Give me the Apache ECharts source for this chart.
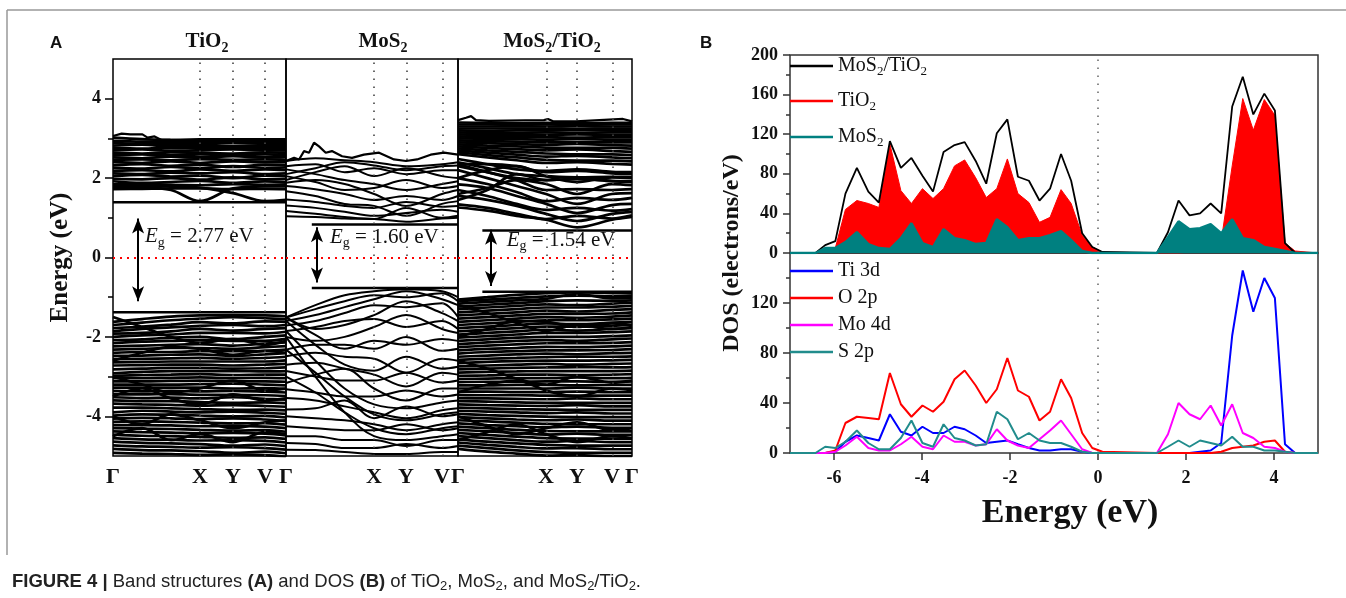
<!DOCTYPE html>
<html>
<head>
<meta charset="utf-8">
<script src="https://cdn.jsdelivr.net/npm/echarts@6/dist/echarts.min.js"></script>
<style>
html,body{margin:0;padding:0;background:#fff;}
#chart{width:1346px;height:598px;}
</style>
</head>
<body>
<div id="chart"></div>
<script>
// ---------- (A) band structures ----------
// k-path sample positions (fraction of each panel): Γ, ⅓ΓX, ⅔ΓX, X, Y, V, Γ
const kTiO2   = [0, 0.168, 0.335, 0.503, 0.694, 0.879, 1.0];
const kMoS2   = [0, 0.171, 0.341, 0.512, 0.698, 0.907, 1.0];
const kHetero = [0, 0.169, 0.337, 0.506, 0.684, 0.885, 1.0];

const panelTitles = ['TiO2', 'MoS2', 'MoS2/TiO2'];
const cbm = [1.39, 0.83, 0.68];       // conduction band minimum (eV)
const vbm = [-1.38, -0.77, -0.86];    // valence band maximum (eV)
const gapLineStartK = [0, 0.15, 0.14];
const arrowK = [0.145, 0.18, 0.19];
const arrowTop = [0.98, 0.76, 0.70];
const arrowBottom = [-1.10, -0.63, -0.72];
const gapLabelK = [0.185, 0.256, 0.28];
const gapLabelE = [0.52, 0.50, 0.42];

const tio2Cond = [
  [1.78,1.77,1.70,1.42,1.74,1.79,1.79],
  [1.80,1.80,1.80,1.76,1.62,1.42,1.45],
  [1.72,1.73,1.74,1.74,1.72,1.73,1.72],
  [1.84,1.86,1.83,1.82,1.85,1.83,1.84],
  [1.92,1.88,1.90,1.93,1.88,1.92,1.90],
  [1.98,1.97,2.00,1.96,2.02,1.97,1.98],
  [2.05,2.08,2.04,2.06,2.00,2.06,2.05],
  [2.12,2.10,2.14,2.12,2.15,2.10,2.12],
  [2.18,2.20,2.17,2.22,2.18,2.22,2.20],
  [2.26,2.24,2.28,2.25,2.30,2.26,2.27],
  [2.32,2.35,2.31,2.34,2.28,2.34,2.33],
  [2.40,2.38,2.42,2.38,2.42,2.40,2.40],
  [2.46,2.47,2.45,2.48,2.46,2.47,2.46],
  [2.52,2.50,2.54,2.52,2.55,2.52,2.53],
  [2.58,2.60,2.57,2.60,2.58,2.60,2.58],
  [2.64,2.62,2.65,2.64,2.62,2.65,2.64],
  [2.70,2.72,2.69,2.70,2.72,2.70,2.70],
  [2.76,2.74,2.77,2.75,2.76,2.76,2.75],
  [2.82,2.84,2.80,2.81,2.80,2.82,2.81],
  [2.88,2.86,2.87,2.86,2.88,2.87,2.87],
  [2.94,2.92,2.92,2.91,2.92,2.92,2.92],
  [3.02,2.98,2.96,2.95,2.95,2.96,2.96]
];
const tio2Val = [
  [-1.62,-1.55,-1.49,-1.46,-1.45,-1.46,-1.48],
  [-1.70,-1.64,-1.58,-1.54,-1.50,-1.53,-1.55],
  [-1.78,-1.74,-1.69,-1.63,-1.66,-1.61,-1.62],
  [-1.86,-1.80,-1.76,-1.72,-1.70,-1.73,-1.70],
  [-1.92,-1.90,-1.86,-1.80,-1.84,-1.80,-1.78],
  [-2.00,-1.96,-1.94,-1.90,-1.90,-1.91,-1.87],
  [-2.08,-2.06,-2.02,-2.00,-2.06,-2.00,-1.96],
  [-2.16,-2.12,-2.10,-2.08,-2.10,-2.10,-2.05],
  [-2.24,-2.22,-2.20,-2.18,-2.22,-2.17,-2.14],
  [-2.32,-2.30,-2.28,-2.28,-2.30,-2.26,-2.23],
  [-2.40,-2.38,-2.38,-2.36,-2.36,-2.35,-2.32],
  [-2.48,-2.47,-2.45,-2.44,-2.48,-2.44,-2.41],
  [-2.56,-2.55,-2.54,-2.53,-2.55,-2.53,-2.50],
  [-2.64,-2.63,-2.62,-2.62,-2.62,-2.62,-2.59],
  [-2.72,-2.71,-2.70,-2.70,-2.72,-2.70,-2.68],
  [-2.82,-2.80,-2.78,-2.78,-2.80,-2.79,-2.77],
  [-2.92,-2.88,-2.86,-2.86,-2.86,-2.87,-2.86],
  [-2.98,-2.96,-2.95,-2.94,-2.96,-2.95,-2.95],
  [-3.04,-3.04,-3.03,-3.02,-3.04,-3.03,-3.04],
  [-3.12,-3.12,-3.11,-3.10,-3.12,-3.12,-3.13],
  [-3.20,-3.20,-3.20,-3.19,-3.18,-3.20,-3.22],
  [-3.28,-3.28,-3.28,-3.28,-3.30,-3.29,-3.31],
  [-3.36,-3.37,-3.36,-3.37,-3.36,-3.38,-3.40],
  [-3.44,-3.45,-3.44,-3.46,-3.46,-3.47,-3.49],
  [-3.52,-3.54,-3.53,-3.55,-3.52,-3.56,-3.58],
  [-3.60,-3.62,-3.62,-3.64,-3.66,-3.65,-3.67],
  [-3.68,-3.70,-3.71,-3.73,-3.72,-3.74,-3.76],
  [-3.78,-3.78,-3.80,-3.82,-3.84,-3.83,-3.85],
  [-3.90,-3.86,-3.88,-3.90,-3.88,-3.91,-3.94],
  [-3.98,-3.95,-3.96,-3.98,-4.00,-3.99,-4.03],
  [-4.06,-4.04,-4.05,-4.07,-4.05,-4.08,-4.12],
  [-4.14,-4.13,-4.14,-4.16,-4.18,-4.17,-4.21],
  [-4.22,-4.22,-4.23,-4.25,-4.24,-4.26,-4.30],
  [-4.30,-4.31,-4.32,-4.34,-4.36,-4.35,-4.39],
  [-4.38,-4.40,-4.41,-4.43,-4.42,-4.44,-4.48],
  [-4.46,-4.49,-4.50,-4.52,-4.54,-4.53,-4.57],
  [-4.55,-4.58,-4.59,-4.61,-4.60,-4.62,-4.66],
  [-4.64,-4.67,-4.68,-4.70,-4.74,-4.71,-4.75],
  [-4.73,-4.76,-4.77,-4.79,-4.78,-4.80,-4.84],
  [-4.82,-4.85,-4.86,-4.88,-4.92,-4.89,-4.93],
  [-4.92,-4.94,-4.95,-4.97,-4.96,-4.98,-5.02],
  [-1.50,-1.75,-2.00,-2.15,-2.05,-2.20,-2.10],
  [-2.60,-2.40,-2.25,-2.30,-2.45,-2.35,-2.40],
  [-3.00,-3.20,-3.40,-3.30,-3.10,-3.35,-3.30],
  [-3.50,-3.30,-3.55,-3.70,-3.45,-3.60,-3.55],
  [-4.00,-4.20,-3.95,-4.10,-4.30,-4.15,-4.10],
  [-4.50,-4.30,-4.60,-4.45,-4.65,-4.40,-4.45]
];
// jagged top of the conduction manifold
const tio2EdgeK = [0, 0.05, 0.10, 0.17, 0.20, 0.24, 0.28, 0.50, 0.70, 0.88, 1.0];
const tio2EdgeE = [3.06, 3.12, 3.10, 3.10, 3.02, 3.05, 2.96, 2.98, 2.98, 2.98, 2.98];

const mos2Cond = [
  [1.04,1.02,0.98,0.97,0.90,0.98,1.00],
  [1.17,1.10,1.02,0.97,1.25,1.00,1.05],
  [1.31,1.25,1.15,1.05,1.12,1.20,1.15],
  [1.46,1.40,1.30,1.25,1.40,1.28,1.30],
  [1.67,1.55,1.35,1.30,1.05,1.35,1.42],
  [1.80,1.72,1.60,1.45,1.55,1.45,1.55],
  [1.88,1.95,1.85,1.60,1.30,1.60,1.70],
  [2.05,1.90,1.70,1.75,1.95,1.75,1.80],
  [2.22,2.10,1.95,1.85,1.70,1.85,1.92],
  [1.95,2.15,2.30,2.05,2.25,2.05,2.00],
  [2.30,2.35,2.15,2.25,2.10,2.20,2.20],
  [2.43,2.50,2.45,2.40,2.30,2.35,2.40],
  [2.10,2.25,2.40,2.32,2.20,2.30,2.32]
];
const mos2Val = [
  [-1.51,-1.20,-0.95,-0.85,-0.80,-0.85,-1.00],
  [-1.51,-1.30,-1.10,-0.95,-1.00,-0.90,-1.10],
  [-1.60,-1.45,-1.25,-1.05,-0.85,-1.05,-1.20],
  [-1.71,-1.60,-1.40,-1.20,-1.25,-1.15,-1.50],
  [-1.51,-1.80,-1.70,-1.45,-1.10,-1.40,-1.60],
  [-1.85,-1.75,-1.60,-1.55,-1.75,-1.60,-1.80],
  [-2.00,-2.10,-2.00,-1.75,-1.45,-1.80,-1.90],
  [-1.51,-1.95,-2.30,-2.10,-2.20,-2.05,-2.10],
  [-2.32,-2.20,-2.20,-2.30,-2.00,-2.35,-2.30],
  [-2.49,-2.40,-2.50,-2.55,-2.90,-2.55,-2.60],
  [-1.60,-2.20,-2.70,-2.85,-2.50,-2.80,-2.75],
  [-2.70,-2.65,-2.80,-2.95,-3.25,-2.90,-2.95],
  [-2.86,-3.00,-3.10,-3.10,-2.90,-3.15,-3.10],
  [-3.16,-2.95,-2.80,-3.30,-3.60,-3.30,-3.30],
  [-3.32,-3.40,-3.50,-3.50,-3.35,-3.50,-3.45],
  [-1.85,-2.60,-3.30,-3.70,-3.80,-3.65,-3.60],
  [-3.54,-3.60,-3.75,-3.90,-4.05,-3.85,-3.80],
  [-3.83,-3.80,-3.60,-4.05,-3.75,-4.00,-3.95],
  [-4.00,-4.05,-4.10,-4.20,-4.35,-4.20,-4.15],
  [-4.25,-4.30,-4.35,-4.35,-4.20,-4.35,-4.30],
  [-2.00,-3.00,-3.90,-4.50,-4.60,-4.50,-4.45],
  [-4.50,-4.50,-4.60,-4.60,-4.75,-4.60,-4.60],
  [-4.67,-4.70,-4.80,-4.80,-4.70,-4.80,-4.75],
  [-4.84,-4.85,-4.90,-4.95,-4.95,-4.90,-4.90],
  [-2.32,-2.90,-3.50,-3.95,-4.10,-3.95,-3.90],
  [-3.00,-3.40,-3.90,-4.30,-4.45,-4.30,-4.25]
];
const mos2EdgeK = [0, 0.047, 0.076, 0.105, 0.134, 0.163, 0.192, 0.231, 0.267, 0.326, 0.384, 0.453, 0.541, 0.628, 0.698, 0.762, 0.841, 0.919, 1.0];
const mos2EdgeE = [2.43, 2.51, 2.47, 2.68, 2.64, 2.89, 2.80, 2.64, 2.68, 2.55, 2.51, 2.59, 2.64, 2.47, 2.43, 2.47, 2.59, 2.64, 2.59];

const heteroCond = [
  [1.26,1.18,1.05,0.95,0.76,0.95,1.02],
  [1.34,1.25,1.10,0.97,1.05,0.98,1.06],
  [1.55,1.45,1.30,1.10,0.92,1.10,1.15],
  [1.70,1.55,1.35,1.20,1.25,1.18,1.22],
  [1.84,1.75,1.55,1.35,1.12,1.32,1.35],
  [2.00,1.85,1.65,1.42,1.50,1.45,1.50],
  [2.20,2.00,1.80,1.60,1.35,1.60,1.62],
  [2.35,2.15,1.95,1.70,1.72,1.70,1.72],
  [1.60,1.75,1.95,1.85,1.60,1.85,1.82],
  [1.45,1.70,2.10,1.95,1.98,1.92,1.90],
  [2.00,2.20,2.30,2.05,1.90,2.02,2.00],
  [2.35,2.35,2.30,2.15,2.18,2.12,2.10],
  [2.48,2.35,2.22,2.18,2.22,2.16,2.15],
  [2.40,2.25,2.10,2.05,2.02,2.03,2.02],
  [2.30,2.15,2.00,1.95,1.98,1.93,1.92],
  [2.60,2.52,2.45,2.38,2.40,2.36,2.34],
  [2.65,2.58,2.52,2.46,2.44,2.44,2.42],
  [2.70,2.64,2.59,2.54,2.56,2.52,2.50],
  [2.75,2.70,2.66,2.62,2.60,2.60,2.58],
  [2.80,2.76,2.73,2.70,2.72,2.68,2.66],
  [2.85,2.82,2.80,2.77,2.76,2.76,2.74],
  [2.90,2.88,2.86,2.84,2.86,2.83,2.82],
  [2.95,2.93,2.92,2.90,2.90,2.90,2.90],
  [3.00,2.99,2.98,2.97,2.98,2.97,2.97],
  [3.05,3.04,3.04,3.03,3.02,3.03,3.03],
  [3.10,3.09,3.09,3.09,3.10,3.09,3.09],
  [3.15,3.14,3.14,3.15,3.14,3.15,3.15],
  [3.20,3.19,3.20,3.20,3.21,3.20,3.20],
  [3.25,3.25,3.25,3.25,3.24,3.25,3.25],
  [3.30,3.30,3.30,3.30,3.31,3.30,3.30],
  [3.35,3.35,3.34,3.35,3.34,3.35,3.35],
  [3.40,3.39,3.38,3.39,3.38,3.39,3.39]
];
const heteroVal = [
  [-1.06,-1.00,-0.94,-0.90,-0.88,-0.89,-0.90],
  [-1.10,-1.06,-1.02,-0.98,-0.96,-0.97,-0.96],
  [-1.16,-1.12,-1.08,-1.04,-0.92,-1.03,-1.02],
  [-1.24,-1.19,-1.15,-1.10,-1.08,-1.09,-1.08],
  [-1.30,-1.26,-1.22,-1.18,-1.20,-1.16,-1.14],
  [-1.38,-1.34,-1.30,-1.26,-1.26,-1.24,-1.22],
  [-1.46,-1.42,-1.38,-1.34,-1.36,-1.32,-1.30],
  [-1.54,-1.50,-1.46,-1.42,-1.42,-1.41,-1.38],
  [-1.62,-1.58,-1.54,-1.50,-1.52,-1.49,-1.46],
  [-1.70,-1.66,-1.62,-1.58,-1.58,-1.56,-1.54],
  [-1.78,-1.74,-1.70,-1.66,-1.68,-1.64,-1.62],
  [-1.86,-1.82,-1.78,-1.74,-1.74,-1.72,-1.70],
  [-1.94,-1.90,-1.86,-1.82,-1.84,-1.80,-1.78],
  [-2.02,-1.98,-1.94,-1.90,-1.90,-1.88,-1.86],
  [-2.10,-2.06,-2.02,-2.00,-2.00,-1.98,-1.96],
  [-2.18,-2.14,-2.10,-2.08,-2.10,-2.06,-2.04],
  [-2.26,-2.22,-2.19,-2.16,-2.16,-2.15,-2.13],
  [-2.34,-2.30,-2.28,-2.25,-2.26,-2.24,-2.22],
  [-2.42,-2.38,-2.36,-2.34,-2.34,-2.33,-2.31],
  [-2.50,-2.47,-2.44,-2.42,-2.44,-2.41,-2.40],
  [-2.58,-2.55,-2.53,-2.51,-2.50,-2.50,-2.49],
  [-2.66,-2.63,-2.61,-2.60,-2.60,-2.59,-2.58],
  [-2.74,-2.72,-2.70,-2.68,-2.70,-2.68,-2.67],
  [-2.82,-2.80,-2.78,-2.77,-2.76,-2.77,-2.76],
  [-2.90,-2.88,-2.87,-2.86,-2.86,-2.86,-2.85],
  [-2.98,-2.97,-2.95,-2.95,-2.96,-2.95,-2.94],
  [-3.06,-3.05,-3.04,-3.04,-3.02,-3.04,-3.03],
  [-3.14,-3.13,-3.13,-3.12,-3.12,-3.13,-3.12],
  [-3.22,-3.22,-3.21,-3.21,-3.22,-3.21,-3.21],
  [-3.30,-3.30,-3.30,-3.30,-3.28,-3.30,-3.30],
  [-3.38,-3.38,-3.39,-3.39,-3.38,-3.39,-3.39],
  [-3.46,-3.47,-3.47,-3.48,-3.48,-3.48,-3.48],
  [-3.54,-3.55,-3.56,-3.57,-3.55,-3.57,-3.57],
  [-3.62,-3.63,-3.65,-3.66,-3.66,-3.66,-3.66],
  [-3.70,-3.72,-3.73,-3.74,-3.72,-3.75,-3.75],
  [-3.78,-3.80,-3.82,-3.83,-3.84,-3.84,-3.84],
  [-3.86,-3.88,-3.90,-3.92,-3.90,-3.93,-3.93],
  [-3.94,-3.97,-3.99,-4.01,-4.02,-4.02,-4.02],
  [-4.02,-4.05,-4.08,-4.10,-4.08,-4.11,-4.11],
  [-4.10,-4.13,-4.16,-4.19,-4.20,-4.20,-4.20],
  [-4.18,-4.22,-4.25,-4.28,-4.26,-4.29,-4.29],
  [-4.26,-4.30,-4.34,-4.37,-4.38,-4.38,-4.38],
  [-4.34,-4.38,-4.42,-4.46,-4.44,-4.47,-4.47],
  [-4.42,-4.47,-4.51,-4.55,-4.56,-4.56,-4.56],
  [-4.50,-4.55,-4.60,-4.64,-4.62,-4.65,-4.65],
  [-4.58,-4.64,-4.68,-4.72,-4.74,-4.74,-4.74],
  [-4.66,-4.72,-4.77,-4.81,-4.80,-4.83,-4.83],
  [-4.74,-4.80,-4.86,-4.90,-4.92,-4.92,-4.92],
  [-4.82,-4.89,-4.94,-4.99,-4.98,-5.01,-5.01],
  [-1.20,-1.40,-1.65,-1.85,-1.70,-1.80,-1.75],
  [-2.00,-1.80,-1.60,-1.62,-1.75,-1.66,-1.70],
  [-2.60,-2.80,-3.05,-3.20,-3.00,-3.15,-3.10],
  [-3.40,-3.20,-3.10,-3.35,-3.50,-3.30,-3.35],
  [-4.00,-4.25,-4.45,-4.30,-4.15,-4.35,-4.30],
  [-4.60,-4.40,-4.20,-4.45,-4.65,-4.50,-4.55]
];
const heteroEdgeK = [0, 0.046, 0.075, 0.103, 0.178, 0.494, 0.517, 0.546, 0.678, 0.948, 1.0];
const heteroEdgeE = [3.46, 3.52, 3.56, 3.46, 3.44, 3.46, 3.49, 3.43, 3.43, 3.49, 3.43];

// ---------- (B) density of states ----------
const energy = [-7.0, -6.42, -6.2, -5.97, -5.74, -5.48, -5.22, -4.98, -4.73, -4.48, -4.24, -3.99, -3.75, -3.51, -3.26, -3.03, -2.78, -2.54, -2.3, -2.06, -1.82, -1.57, -1.33, -1.09, -0.84, -0.61, -0.36, -0.13, 0.1, 1.34, 1.59, 1.83, 2.08, 2.32, 2.56, 2.8, 3.05, 3.29, 3.53, 3.78, 4.02, 4.25, 4.48, 5.0];
const dosTotal = [0, 0, 8, 12, 60, 86, 62, 51, 113, 86, 96, 78, 62, 102, 109, 112, 93, 70, 121, 135, 77, 73, 53, 65, 100, 73, 20, 6, 1, 0, 21, 53, 38, 40, 50, 40, 148, 178, 140, 161, 144, 10, 0, 0];
const dosTiO2  = [0, 0, 2, 5, 44, 53, 50, 46, 110, 63, 50, 65, 55, 65, 88, 94, 76, 56, 65, 95, 60, 51, 31, 36, 64, 50, 18, 6, 1, 0, 0, 0, 1, 1, 3, 12, 88, 156, 124, 155, 139, 10, 2, 0];
const dosMoS2  = [0, 0, 5, 5, 11, 21, 9, 5, 4, 15, 30, 10, 6, 24, 15, 13, 9, 10, 34, 26, 13, 15, 15, 18, 22, 13, 2, 0, 0, 0, 16, 32, 24, 25, 29, 20, 34, 15, 13, 6, 4, 2, 0, 0];
const pdosTi3d = [0, 0, 0, 1, 9, 14, 12, 10, 31, 17, 14, 21, 16, 16, 21, 19, 14, 8, 9, 10, 7, 4, 2, 2, 3, 3, 1, 0, 0, 0, 0, 0, 0, 1, 2, 8, 94, 146, 113, 140, 124, 7, 0, 0];
const pdosO2p  = [0, 0, 0, 2, 24, 29, 28, 27, 64, 39, 29, 38, 33, 41, 59, 66, 54, 40, 51, 76, 50, 45, 26, 33, 59, 44, 16, 4, 1, 0, 0, 0, 0, 0, 0, 1, 4, 5, 6, 9, 10, 1, 0, 0];
const pdosMo4d = [0, 0, 0, 1, 6, 13, 4, 2, 2, 7, 13, 5, 3, 14, 9, 9, 6, 7, 19, 10, 6, 4, 11, 18, 26, 15, 3, 0, 0, 0, 15, 40, 31, 27, 38, 22, 39, 16, 12, 5, 4, 1, 0, 0];
const pdosS2p  = [0, 0, 5, 4, 9, 18, 8, 3, 3, 12, 26, 8, 5, 23, 12, 10, 6, 7, 33, 27, 11, 16, 10, 8, 8, 5, 1, 0, 0, 0, 5, 10, 5, 10, 8, 6, 13, 5, 5, 2, 2, 1, 0, 0];
const energyTicks = [-6, -4, -2, 0, 2, 4];
const bandTicks = [-4, -2, 0, 2, 4];
const bandMinorTicks = [-3, -1, 1, 3];

// ---------- styling ----------
const SERIF = "'Liberation Serif','Times New Roman',serif";
const SANS = "'Liberation Sans',Arial,sans-serif";
const INK = '#111';

// chemical formula -> rich text with subscripted digits
function formula(txt, main, sub) {
  return txt.replace(/([A-Za-z\/]+)(\d)/g, '{' + main + '|$1}{' + sub + '|$2}');
}
function subRich(size, weight) {
  return {
    a: {fontFamily: SERIF, fontSize: size, fontWeight: weight, color: INK, lineHeight: size + 5},
    s: {fontFamily: SERIF, fontSize: Math.round(size * 0.65), fontWeight: weight, color: INK, lineHeight: 9, verticalAlign: 'bottom'}
  };
}

const panelK = [kTiO2, kMoS2, kHetero];
const panelBands = [tio2Cond.concat(tio2Val), mos2Cond.concat(mos2Val), heteroCond.concat(heteroVal)];
const panelEdgeK = [tio2EdgeK, mos2EdgeK, heteroEdgeK];
const panelEdgeE = [tio2EdgeE, mos2EdgeE, heteroEdgeE];
const bandWidth = [2.7, 2.0, 2.7];
const gridLeft = [113, 286, 458];
const gridWidth = [173, 172, 174];
const titleCenter = [207, 383, 552];

const grids = [], xAxes = [], yAxes = [], series = [], titles = [];

for (let p = 0; p < 3; p++) {
  grids.push({left: gridLeft[p], top: 59, width: gridWidth[p], height: 397, show: true,
    borderColor: '#000', borderWidth: 1.5, backgroundColor: 'transparent'});
  const kk = panelK[p];
  const labelKs = [0, kk[3], kk[4], kk[5]];
  const labelTx = ['Γ', 'X', 'Y', 'V'];
  if (p === 2) { labelKs.push(1.0); labelTx.push('Γ'); }
  xAxes.push({
    type: 'value', gridIndex: p, min: 0, max: 1,
    axisLine: {show: false, onZero: false}, axisTick: {show: false}, splitLine: {show: false},
    axisLabel: {
      customValues: labelKs, showMinLabel: true, showMaxLabel: true,
      formatter: v => { const i = labelKs.findIndex(x => Math.abs(x - v) < 1e-6); return i >= 0 ? labelTx[i] : ''; },
      fontFamily: SERIF, fontWeight: 'bold', fontSize: 22, color: INK, margin: 10
    }
  });
  yAxes.push({
    type: 'value', gridIndex: p, min: -5, max: 5, splitLine: {show: false},
    axisLine: {show: false, onZero: false},
    axisTick: {show: p === 0, customValues: bandTicks, length: 8, lineStyle: {color: '#000', width: 1.5}},
    axisLabel: {show: p === 0, customValues: bandTicks, fontFamily: SERIF, fontWeight: 'bold', fontSize: 18, color: INK, margin: 12},
    name: p === 0 ? 'Energy (eV)' : '', nameLocation: 'middle', nameRotate: 90, nameGap: 40,
    nameTextStyle: {fontFamily: SERIF, fontWeight: 'bold', fontSize: 25, color: INK}
  });

  panelBands[p].forEach(b => {
    series.push({type: 'line', xAxisIndex: p, yAxisIndex: p, silent: true, symbol: 'none', smooth: 0.35,
      data: kk.map((k, i) => [k, b[i]]), lineStyle: {color: '#000', width: bandWidth[p]}, z: 3});
  });
  series.push({type: 'line', xAxisIndex: p, yAxisIndex: p, silent: true, symbol: 'none',
    data: panelEdgeK[p].map((k, i) => [k, panelEdgeE[p][i]]), lineStyle: {color: '#000', width: 2.2}, z: 3});

  const gap = (cbm[p] - vbm[p]).toFixed(2);
  // band-edge lines with the gap arrow and label
  series.push({type: 'line', xAxisIndex: p, yAxisIndex: p, silent: true, symbol: 'none',
    data: [[gapLineStartK[p], cbm[p]], [1, cbm[p]]], lineStyle: {color: '#000', width: 2.5}, z: 2,
    markLine: {silent: true, symbol: 'none', label: {show: false}, animation: false,
      data: [
        {xAxis: kk[3], lineStyle: {color: '#444', width: 1.6, type: [1.6, 6.4]}},
        {xAxis: kk[4], lineStyle: {color: '#444', width: 1.6, type: [1.6, 6.4]}},
        {xAxis: kk[5], lineStyle: {color: '#444', width: 1.6, type: [1.6, 6.4]}},
        {yAxis: 0, lineStyle: {color: '#ff0000', width: 2, type: [2, 5]}},
        [{coord: [arrowK[p], arrowTop[p]], symbol: 'arrow', symbolSize: [9, 15]},
         {coord: [arrowK[p], arrowBottom[p]], symbol: 'arrow', symbolSize: [9, 15], lineStyle: {color: '#000', width: 2, type: 'solid'}}]
      ]},
    markPoint: {silent: true, animation: false, data: [{coord: [gapLabelK[p], gapLabelE[p]], symbolSize: 0,
      label: {show: true, position: 'right', distance: 0,
        formatter: '{e|E}{g|g}{t| = ' + gap + ' eV}',
        rich: {
          e: {fontFamily: SERIF, fontStyle: 'italic', fontSize: 21, color: INK, lineHeight: 26},
          g: {fontFamily: SERIF, fontSize: 14, color: INK, lineHeight: 9, verticalAlign: 'bottom'},
          t: {fontFamily: SERIF, fontSize: 21, color: INK, lineHeight: 26}
        }}}]}
  });
  series.push({type: 'line', xAxisIndex: p, yAxisIndex: p, silent: true, symbol: 'none',
    data: [[gapLineStartK[p], vbm[p]], [1, vbm[p]]], lineStyle: {color: '#000', width: 2.5}, z: 2});

  titles.push({text: formula(panelTitles[p], 'a', 's'), left: titleCenter[p], top: 29, textAlign: 'center',
    padding: 0, textStyle: {rich: subRich(21, 'bold')}});
}
// minor ticks of the band-energy axis
yAxes.push({type: 'value', gridIndex: 0, min: -5, max: 5, position: 'left', splitLine: {show: false},
  axisLine: {show: false, onZero: false}, axisLabel: {show: false},
  axisTick: {show: true, customValues: bandMinorTicks, length: 5, lineStyle: {color: '#000', width: 1.5}}});

// DOS panels
grids.push({left: 790, top: 55, width: 528, height: 198, show: true, borderColor: '#333', borderWidth: 1.5, backgroundColor: 'transparent'});
grids.push({left: 790, top: 253, width: 528, height: 200, show: true, borderColor: '#333', borderWidth: 1.5, backgroundColor: 'transparent'});
xAxes.push({type: 'value', gridIndex: 3, min: -7, max: 5, show: false});
xAxes.push({type: 'value', gridIndex: 4, min: -7, max: 5, splitLine: {show: false},
  axisLine: {show: false, onZero: false},
  axisTick: {customValues: energyTicks, length: 7, lineStyle: {color: '#333', width: 1.5}},
  axisLabel: {customValues: energyTicks, fontFamily: SERIF, fontWeight: 'bold', fontSize: 18, color: INK, margin: 16},
  name: 'Energy (eV)', nameLocation: 'middle', nameGap: 43,
  nameTextStyle: {fontFamily: SERIF, fontWeight: 'bold', fontSize: 34, color: INK, padding: [0, 0, 0, 32]}});
const dosY = (gi, max) => ({type: 'value', gridIndex: gi, min: 0, max: max, interval: 40, splitLine: {show: false},
  axisLine: {show: false, onZero: false},
  axisTick: {length: 7, lineStyle: {color: '#333', width: 1.5}},
  minorTick: {show: true, splitNumber: 2, length: 4, lineStyle: {color: '#333', width: 1.5}},
  axisLabel: {fontFamily: SERIF, fontWeight: 'bold', fontSize: 18, color: INK, margin: 12,
    formatter: v => (gi === 4 && v === 160) ? '' : String(v)}});
yAxes.push(dosY(3, 200));   // index 4
yAxes.push(dosY(4, 160));   // index 5

const pts = vals => energy.map((e, i) => [e, vals[i]]);
const fermi = {silent: true, symbol: 'none', label: {show: false}, animation: false,
  lineStyle: {color: '#666', width: 1.5, type: [1.5, 6.5]}, data: [{xAxis: 0}]};

series.push({name: 'TiO2', type: 'line', xAxisIndex: 3, yAxisIndex: 4, symbol: 'none', silent: true,
  color: '#ff0000', data: pts(dosTiO2), lineStyle: {width: 1, color: '#ff0000'},
  areaStyle: {color: '#ff0000', opacity: 1}, z: 3});
series.push({name: 'MoS2/TiO2', type: 'line', xAxisIndex: 3, yAxisIndex: 4, symbol: 'none', silent: true,
  color: '#000000', data: pts(dosTotal), lineStyle: {width: 1.8, color: '#000'}, z: 4, markLine: fermi});
series.push({name: 'MoS2', type: 'line', xAxisIndex: 3, yAxisIndex: 4, symbol: 'none', silent: true,
  color: '#008080', data: pts(dosMoS2), lineStyle: {width: 2.5, color: '#008080'},
  areaStyle: {color: '#008080', opacity: 1}, z: 5});

const pdos = [
  ['Ti 3d', pdosTi3d, '#0000ff'],
  ['O 2p', pdosO2p, '#ff0000'],
  ['Mo 4d', pdosMo4d, '#ff00ff'],
  ['S 2p', pdosS2p, '#218c8c']
];
pdos.forEach(([name, vals, col], i) => {
  series.push({name, type: 'line', xAxisIndex: 4, yAxisIndex: 5, symbol: 'none', silent: true,
    color: col, data: pts(vals), lineStyle: {width: 2, color: col}, z: 3 + i,
    markLine: i === 0 ? fermi : undefined});
});

// legends
const legendRich = {
  a: {fontFamily: SERIF, fontSize: 20, color: INK, lineHeight: 24},
  s: {fontFamily: SERIF, fontSize: 13, color: INK, lineHeight: 8, verticalAlign: 'bottom'}
};
const legendRows = [
  ['MoS2/TiO2', 56], ['TiO2', 91], ['MoS2', 127],
  ['Ti 3d', 261], ['O 2p', 288], ['Mo 4d', 315], ['S 2p', 342]
];
const legends = legendRows.map(([name, top]) => ({
  data: [name], left: 790, top: top, orient: 'vertical', padding: 0, selectedMode: false,
  icon: 'rect', itemWidth: 43, itemHeight: 2.5, itemGap: 0,
  formatter: n => /\d$/.test(n) && !/\s/.test(n) ? formula(n, 'a', 's') : '{a|' + n + '}',
  textStyle: {rich: legendRich}
}));

titles.push({text: 'A', left: 50, top: 35, padding: 0, textStyle: {fontFamily: SANS, fontWeight: 'bold', fontSize: 17, color: INK}});
titles.push({text: 'B', left: 700, top: 35, padding: 0, textStyle: {fontFamily: SANS, fontWeight: 'bold', fontSize: 17, color: INK}});
titles.push({
  text: '{b|FIGURE 4 | }{n|Band structures }{b|(A)}{n| and DOS }{b|(B)}{n| of TiO}{s|2}{n|, MoS}{s|2}{n|, and MoS}{s|2}{n|/TiO}{s|2}{n|.}',
  left: 12, top: 571, padding: 0,
  textStyle: {fontWeight: 'normal', rich: {
    b: {fontFamily: SANS, fontWeight: 'bold', fontSize: 18.5, color: '#222', lineHeight: 22},
    n: {fontFamily: SANS, fontWeight: 'normal', fontSize: 18.5, color: '#222', lineHeight: 22},
    s: {fontFamily: SANS, fontWeight: 'normal', fontSize: 13, color: '#222', lineHeight: 8, verticalAlign: 'bottom'}
  }}
});

const chart = echarts.init(document.getElementById('chart'), null, {renderer: 'canvas'});
chart.setOption({
  animation: false,
  backgroundColor: '#fff',
  title: titles,
  legend: legends,
  grid: grids,
  xAxis: xAxes,
  yAxis: yAxes,
  series: series,
  graphic: [
    {type: 'line', silent: true, shape: {x1: 7, y1: 10, x2: 1346, y2: 10}, style: {stroke: '#999', lineWidth: 1.5}},
    {type: 'line', silent: true, shape: {x1: 7, y1: 10, x2: 7, y2: 555}, style: {stroke: '#999', lineWidth: 1.5}},
    {type: 'text', silent: true, x: 732, y: 253, rotation: Math.PI / 2,
      style: {text: 'DOS (electrons/eV)', fontFamily: SERIF, fontWeight: 'bold', fontSize: 24, fill: INK,
        align: 'center', verticalAlign: 'middle'}}
  ]
});
</script>
</body>
</html>
